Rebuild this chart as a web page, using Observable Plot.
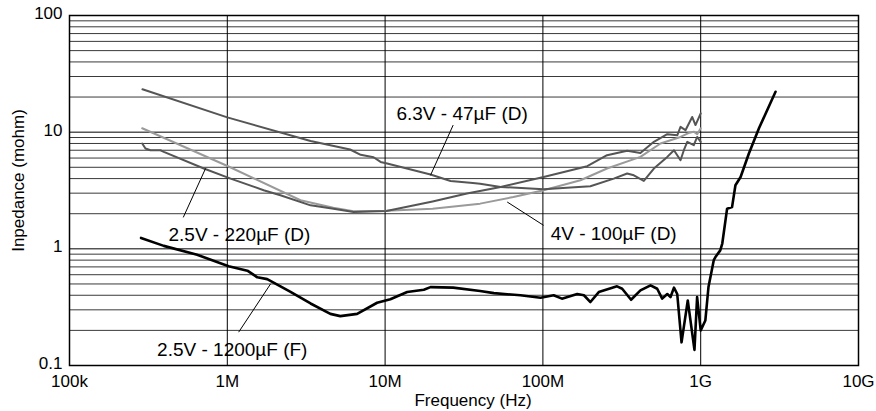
<!DOCTYPE html>
<html>
<head>
<meta charset="utf-8">
<script src="https://cdn.jsdelivr.net/npm/d3@7"></script>
<script src="https://cdn.jsdelivr.net/npm/@observablehq/plot@0.6"></script>
<style>
  html, body { margin: 0; padding: 0; background: #fff; }
  #chart svg { display: block; }
</style>
</head>
<body>
<div id="chart"></div>
<script>
// Frequency in MHz, impedance in mohm
const freqTicks = [0.1, 1, 10, 100, 1000, 10000];
const freqTickLabels = ["100k", "1M", "10M", "100M", "1G", "10G"];
const zTicks = [0.1, 1, 10, 100];
const zTickLabels = ["0.1", "1", "10", "100"];
const zMinor = [0.2, 0.3, 0.4, 0.5, 0.6, 0.7, 0.8, 0.9, 2, 3, 4, 5, 6, 7, 8, 9, 20, 30, 40, 50, 60, 70, 80, 90];

// 6.3V - 47µF (D)
const s63Freq = [0.29, 1.0, 3.37, 6.0, 7.0, 8.45, 9.36, 10.3, 19.4, 26, 36, 40, 54, 101, 150, 200, 281, 342, 377, 436, 505, 614, 677, 745, 782, 822, 904, 950, 1000];
const s63Z    = [23.3, 13.4, 8.4, 7.1, 6.4, 6.1, 5.56, 5.38, 4.33, 3.82, 3.67, 3.62, 3.39, 3.24, 3.35, 3.44, 4.0, 4.42, 4.27, 3.82, 4.88, 6.14, 7.0, 5.75, 7.0, 8.26, 7.73, 9.1, 8.26];

// 2.5V - 220µF (D)
const s220Freq = [0.289, 0.303, 0.326, 0.377, 0.396, 0.71, 1.05, 1.70, 2.17, 3.37, 4.71, 6.31, 10.2, 20, 33, 54, 101, 191, 255, 342, 415, 505, 614, 710, 745, 801, 883, 927, 1000];
const s220Z    = [8.0, 7.25, 7.0, 7.0, 6.78, 4.88, 4.0, 3.18, 2.88, 2.36, 2.21, 2.07, 2.11, 2.55, 2.98, 3.39, 4.13, 5.11, 6.35, 6.92, 6.64, 8.26, 9.6, 9.4, 11.1, 10.4, 13.5, 11.5, 14.5];

// 4V - 100µF (D)
const s100Freq = [0.289, 1.01, 2.91, 4.7, 6.3, 10.2, 20, 40, 65, 101, 173, 255, 415, 556, 745, 850, 904, 950, 1000];
const s100Z    = [10.8, 5.1, 2.61, 2.25, 2.1, 2.12, 2.21, 2.44, 2.78, 3.18, 3.87, 4.88, 6.14, 8.0, 9.1, 9.9, 10.1, 9.6, 10.8];

// 2.5V - 1200µF (F)
const s1200Freq = [0.284, 0.396, 0.644, 1.02, 1.34, 1.55, 1.79, 2.5, 3.37, 4.5, 5.2, 6.65, 8.9, 10.8, 13.8, 17.6, 19.4, 27, 40, 48.9, 72, 96.6, 117, 132, 165, 182, 200, 226, 295, 318, 362, 415, 481, 530, 570, 614, 644, 677, 710, 756, 828, 913, 949, 1000, 1070, 1120, 1210, 1240, 1330, 1370, 1470, 1580, 1660, 1790, 2020, 2340, 2980];
const s1200Z    = [1.24, 1.06, 0.89, 0.71, 0.65, 0.57, 0.55, 0.43, 0.34, 0.277, 0.265, 0.277, 0.345, 0.37, 0.426, 0.446, 0.47, 0.465, 0.435, 0.417, 0.40, 0.381, 0.40, 0.374, 0.41, 0.40, 0.35, 0.426, 0.477, 0.455, 0.366, 0.44, 0.486, 0.455, 0.374, 0.41, 0.386, 0.465, 0.41, 0.158, 0.361, 0.136, 0.386, 0.20, 0.243, 0.47, 0.80, 0.85, 0.97, 1.11, 2.21, 2.28, 3.51, 4.13, 6.56, 10.8, 22.2];

// Annotation labels: text, anchor frequency (MHz), anchor impedance (mohm)
const labelText = ["6.3V - 47µF (D)", "2.5V - 220µF (D)", "4V - 100µF (D)", "2.5V - 1200µF (F)"];
const labelFreq = [11.8, 0.424, 112, 0.359];
const labelZ    = [14.4, 1.32, 1.35, 0.137];
// Leader lines: from (f1,z1) to (f2,z2)
const leadF1 = [27, 0.728, 59.4, 1.88];
const leadZ1 = [11.5, 4.88, 2.52, 0.50];
const leadF2 = [19.4, 0.526, 101, 1.18];
const leadZ2 = [4.27, 1.86, 1.59, 0.193];

const xLabel = "Frequency (Hz)";
const yLabel = "Inpedance (mohm)";

const toRows = (fs, zs) => fs.map((f, i) => ({f, z: zs[i]}));
const s63 = toRows(s63Freq, s63Z);
const s220 = toRows(s220Freq, s220Z);
const s100 = toRows(s100Freq, s100Z);
const s1200 = toRows(s1200Freq, s1200Z);
const labels = labelText.map((t, i) => ({t, f: labelFreq[i], z: labelZ[i]}));
const leaders = leadF1.map((f1, i) => ({f1, z1: leadZ1[i], f2: leadF2[i], z2: leadZ2[i]}));

const chart = Plot.plot({
  width: 876,
  height: 411,
  marginLeft: 69,
  marginRight: 18,
  marginTop: 15,
  marginBottom: 46,
  style: {fontFamily: "'Liberation Sans', Arial, sans-serif", fontSize: "17px", color: "#000", background: "#fff"},
  x: {type: "log", domain: [0.1, 10000]},
  y: {type: "log", domain: [0.1, 100]},
  marks: [
    Plot.ruleY(zMinor, {stroke: "#3a3a3a", strokeWidth: 1}),
    Plot.ruleY(zTicks, {stroke: "#000", strokeWidth: 1}),
    Plot.ruleX(freqTicks, {stroke: "#000", strokeWidth: 1}),
    Plot.frame({stroke: "#000", strokeWidth: 1.5}),
    Plot.line(s100, {x: "f", y: "z", stroke: "#9a9a9a", strokeWidth: 2}),
    Plot.line(s220, {x: "f", y: "z", stroke: "#555", strokeWidth: 2}),
    Plot.line(s63, {x: "f", y: "z", stroke: "#555", strokeWidth: 2}),
    Plot.line(s1200, {x: "f", y: "z", stroke: "#000", strokeWidth: 2.6}),
    Plot.link(leaders, {x1: "f1", y1: "z1", x2: "f2", y2: "z2", stroke: "#000", strokeWidth: 1}),
    Plot.text(labels, {x: "f", y: "z", text: "t", textAnchor: "start", lineAnchor: "middle", fontSize: 19, fill: "#000"}),
    Plot.axisX(freqTicks, {anchor: "bottom", tickSize: 0, tickPadding: 9, label: null, fontSize: 17,
      tickFormat: d => freqTickLabels[freqTicks.indexOf(d)]}),
    Plot.axisY(zTicks, {anchor: "left", tickSize: 0, tickPadding: 7, dy: -2, label: null, fontSize: 17,
      tickFormat: d => zTickLabels[zTicks.indexOf(d)]}),
    Plot.text([xLabel], {frameAnchor: "bottom", textAnchor: "middle", lineAnchor: "middle", dx: 9, dy: 35, fontSize: 17, fill: "#000"}),
    Plot.text([yLabel], {frameAnchor: "left", textAnchor: "middle", lineAnchor: "middle", rotate: -90, dx: -51, dy: -10, fontSize: 17, fill: "#000"})
  ]
});
document.getElementById("chart").appendChild(chart);
</script>
</body>
</html>
